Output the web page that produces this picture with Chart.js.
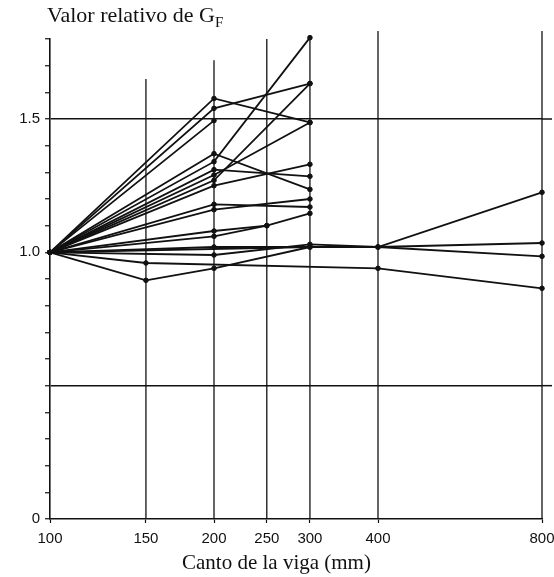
<!DOCTYPE html>
<html><head><meta charset="utf-8">
<script src="https://cdn.jsdelivr.net/npm/chart.js@4/dist/chart.umd.min.js"></script>
<style>
html,body{margin:0;padding:0;background:#fff;}
#wrap{position:relative;width:554px;height:577px;overflow:hidden;}
canvas{position:absolute;left:0;top:0;}
#ytitle{position:absolute;left:47px;top:2px;font-family:"Liberation Serif",serif;font-size:22px;color:#111;white-space:nowrap;}
#ytitle sub{font-size:15px;vertical-align:-5px;}
#xtitle{position:absolute;left:182px;top:550px;font-family:"Liberation Serif",serif;font-size:21px;color:#111;white-space:nowrap;}
</style></head>
<body>
<div id="wrap">
<canvas id="c" width="554" height="577"></canvas>
<div id="ytitle">Valor relativo de G<sub>F</sub></div>
<div id="xtitle">Canto de la viga (mm)</div>
</div>
<script>
// x positions (beam depth, mm)
const depths = [100, 150, 200, 250, 300, 400, 800];
// y tick values and labels
const yTicks = [0,0.1,0.2,0.3,0.4,0.5,0.6,0.7,0.8,0.9,1.0,1.1,1.2,1.3,1.4,1.5,1.6,1.7,1.8];
const yLabels = {"0":"0","1":"1.0","1.5":"1.5"};
const yGridLines = [0.5, 1.5];
// series values aligned with depths (null = not measured)
const sA = [1.0, null, 1.577, null, 1.487, null, null];
const sB = [1.0, null, 1.54,  null, 1.633, null, null];
const sC = [1.0, null, 1.494, null, null,  null, null];
const sD = [1.0, null, 1.34,  null, 1.805, null, null];
const sE = [1.0, null, 1.27,  null, 1.633, null, null];
const sF = [1.0, null, 1.29,  null, 1.487, null, null];
const sG = [1.0, null, 1.37,  null, 1.236, null, null];
const sH = [1.0, null, 1.31,  null, 1.285, null, null];
const sI = [1.0, null, 1.25,  null, 1.33,  null, null];
const sJ = [1.0, null, 1.18,  null, 1.17,  null, null];
const sK = [1.0, null, 1.16,  null, 1.20,  null, null];
const sL = [1.0, null, 1.08,  1.10, 1.146, null, null];
const sM = [1.0, null, 1.06,  1.10, null,  null, null];
const sN = [1.0, null, 1.02,  null, 1.02,  1.02, 1.035];
const sO = [1.0, 0.895, 0.94, null, 1.02,  null, null];
const sP = [1.0, null, 0.99,  null, 1.03,  1.02, 0.985];
const sQ = [1.0, null, null,  null, 1.02,  1.02, 1.225];
const sR = [1.0, 0.96, null,  null, null,  0.94, 0.865];
const seriesList = [sA,sB,sC,sD,sE,sF,sG,sH,sI,sJ,sK,sL,sM,sN,sO,sP,sQ,sR];
// top value reached by each vertical grid line
const gridTopValues = [null, 1.65, 1.72, 1.8, 1.8, 1.83, 1.83];

const datasets = seriesList.map(s => ({
  data: s.map((v,i) => v === null ? null : {x: depths[i], y: v}).filter(p => p !== null),
  borderColor: '#111', borderWidth: 1.8, tension: 0,
  pointRadius: 2.3, pointBackgroundColor: '#111', pointBorderColor: '#111', pointBorderWidth: 1,
  clip: false, fill: false
}));

const vGrid = {
  id: 'vGrid',
  beforeDatasetsDraw(chart) {
    const {ctx, chartArea, scales:{x, y}} = chart;
    ctx.save();
    ctx.strokeStyle = '#111'; ctx.lineWidth = 1.3;
    depths.forEach((d,i) => {
      if (gridTopValues[i] === null) return;
      const px = x.getPixelForValue(d);
      ctx.beginPath();
      ctx.moveTo(px, y.getPixelForValue(gridTopValues[i]));
      ctx.lineTo(px, chartArea.bottom);
      ctx.stroke();
    });
    // horizontal reference lines run a little past the last vertical
    ctx.lineWidth = 1.5;
    yGridLines.forEach(g => {
      const py = y.getPixelForValue(g);
      ctx.beginPath();
      ctx.moveTo(chartArea.right, py);
      ctx.lineTo(chartArea.right + 10, py);
      ctx.stroke();
    });
    ctx.restore();
  }
};

new Chart(document.getElementById('c'), {
  type: 'line',
  data: { datasets },
  plugins: [vGrid],
  options: {
    responsive: false, animation: false,
    layout: { padding: { top: 39, right: 12, left: 0, bottom: 0 } },
    plugins: { legend: { display: false }, tooltip: { enabled: false } },
    scales: {
      x: {
        type: 'logarithmic', min: 100, max: 800,
        afterBuildTicks: s => { s.ticks = depths.map(v => ({value: v})); },
        afterFit: s => { s.height = 58; s.paddingRight = 0; s.paddingLeft = 0; },
        ticks: { callback: v => String(v), color: '#111', padding: 7, maxRotation: 0, autoSkip: false,
                 font: { family: 'Liberation Sans', size: 15 } },
        grid: { drawOnChartArea: false, drawTicks: true, tickLength: 4, tickColor: '#111', tickWidth: 1.2 },
        border: { display: true, color: '#111', width: 1.6 }
      },
      y: {
        min: 0, max: 1.8,
        afterBuildTicks: s => { s.ticks = yTicks.map(v => ({value: v})); },
        afterFit: s => { s.width = 50; s.paddingTop = 0; s.paddingBottom = 0; },
        ticks: { callback: v => { const k = String(Math.round(v*10)/10); return yLabels[k] !== undefined ? yLabels[k] : ''; },
                 color: '#111', padding: 5, font: { family: 'Liberation Sans', size: 15 } },
        grid: {
          color: c => yGridLines.some(g => Math.abs(c.tick.value - g) < 1e-6) ? '#111' : 'rgba(0,0,0,0)',
          lineWidth: 1.5, tickLength: 5, tickColor: '#111', tickWidth: 1.2
        },
        border: { display: true, color: '#111', width: 1.6 }
      }
    }
  }
});
</script>
</body></html>
